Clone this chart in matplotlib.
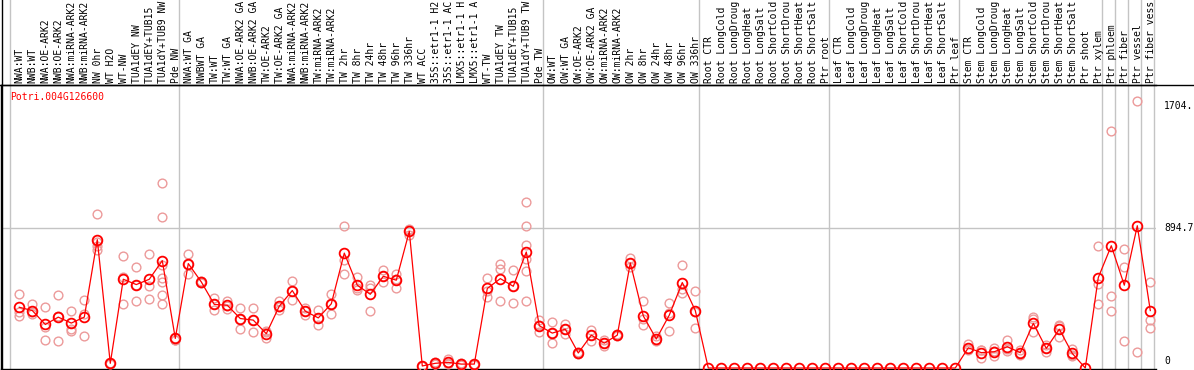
import matplotlib
matplotlib.use("Agg")
import matplotlib.pyplot as plt
import matplotlib.transforms as mtransforms
from matplotlib.lines import Line2D
import numpy as np

# Data
gene = "Potri.004G126600"
conditions = [
    "NWA:WT", "NWB:WT", "NWA:OE-ARK2", "NWB:OE-ARK2", "NWA:miRNA-ARK2", "NWB:miRNA-ARK2",
    "NW 0hr", "WT H2O", "WT-NW", "TUA1dEY NW", "TUA1dEY+TUB15 NW", "TUA1dY+TUB9 NW", "Pde NW",
    "NWA:WT GA", "NWBWT GA", "TW:WT", "TW:WT GA", "NWA:OE-ARK2 GA", "NWB:OE-ARK2 GA",
    "TW:OE-ARK2", "TW:OE-ARK2 GA", "NWA:miRNA-ARK2", "NWB:miRNA-ARK2", "TW:miRNA-ARK2",
    "TW:miRNA-ARK2", "TW 2hr", "TW 8hr", "TW 24hr", "TW 48hr", "TW 96hr", "TW 336hr",
    "WT ACC", "35S::etr1-1 H2O", "35S::etr1-1 ACC", "LMX5::etr1-1 H2O", "LMX5::etr1-1 ACC",
    "WT-TW", "TUA1dEY TW", "TUA1dEY+TUB15 TW", "TUA1dY+TUB9 TW", "Pde TW",
    "OW:WT", "OW:WT GA", "OW:OE-ARK2", "OW:OE-ARK2 GA", "OW:miRNA-ARK2", "OW:miRNA-ARK2",
    "OW 2hr", "OW 8hr", "OW 24hr", "OW 48hr", "OW 96hr", "OW 336hr",
    "Root CTR", "Root LongCold", "Root LongDrought", "Root LongHeat", "Root LongSalt",
    "Root ShortCold", "Root ShortDrought", "Root ShortHeat", "Root ShortSalt", "Ptr root",
    "Leaf CTR", "Leaf LongCold", "Leaf LongDrought", "Leaf LongHeat", "Leaf LongSalt",
    "Leaf ShortCold", "Leaf ShortDrought", "Leaf ShortHeat", "Leaf ShortSalt", "Ptr leaf",
    "Stem CTR", "Stem LongCold", "Stem LongDrought", "Stem LongHeat", "Stem LongSalt",
    "Stem ShortCold", "Stem ShortDrought", "Stem ShortHeat", "Stem ShortSalt", "Ptr shoot",
    "Ptr xylem", "Ptr phloem", "Ptr fiber", "Ptr vessel", "Ptr fiber vessel",
]
group_sizes = [13, 28, 12, 10, 10, 11, 1, 1, 1, 1]

means = [388, 367, 278, 325, 287, 325, 820, 30, 567, 533, 567, 686, 189,
         667, 550, 406, 401, 316, 306, 219, 395, 495, 363, 320, 410, 734, 529,
         471, 586, 561, 873, 13, 30, 36, 25, 25, 508, 571, 522, 741, 270,
         223, 248, 96, 210, 159, 210, 671, 333, 185, 338, 546, 367,
         0, 0, 0, 0, 0, 0, 0, 0, 0, 0,
         0, 0, 0, 0, 0, 0, 0, 0, 0, 0,
         129, 98, 104, 136, 98, 285, 125, 248, 93, 0, 578,
         781, 529, 909, 367]

replicates = [
    [470, 355, 335], [406, 342, 355], [388, 259, 176], [469, 170, 335],
    [361, 246, 234], [433, 348, 202], [981, 803, 752, 777], [33, 28, 30],
    [718, 582, 412], [648, 427, 533], [726, 524, 444],
    [1183, 966, 656, 578, 550, 469, 406], [192, 182, 180],
    [730, 603, 667], [556, 543, 550], [448, 369, 406], [427, 380, 397],
    [386, 248, 316], [382, 227, 306], [237, 227, 193], [427, 369, 390],
    [554, 433, 495], [384, 338, 363], [369, 272, 320], [471, 348, 410],
    [904, 688, 603], [582, 497, 510], [533, 512, 363], [624, 548, 586],
    [603, 514, 566], [887, 851, 880], [15, 12, 12], [38, 25, 28],
    [55, 30, 25], [20, 30, 25], [22, 28, 25], [578, 454, 492],
    [662, 635, 427], [629, 418, 522], [1062, 904, 783, 699, 618, 427],
    [306, 227, 277],
    [291, 159, 225], [278, 217, 248], [100, 92, 96], [242, 174, 214],
    [178, 142, 159], [215, 205, 210], [705, 645, 671], [427, 312, 274],
    [205, 171, 180], [418, 352, 234], [660, 476, 502], [490, 253, 358],
    [], [], [], [], [], [], [], [], [], [],
    [], [], [], [], [], [], [], [], [], [],
    [153, 115, 120], [115, 66, 112], [125, 78, 108], [178, 108, 122],
    [115, 83, 96], [316, 227, 327], [146, 104, 125], [274, 200, 270],
    [121, 78, 80], [], [779, 535, 406],
    [1514, 457, 367], [762, 648, 170], [1704, 100], [552, 304, 253],
]
y_labels = ["1704.", "894.7", "0"]
y_values = [1704, 894.7, 0]

mono = "DejaVu Sans Mono"
fs = 7.0
max_chars = 14  # the label strip only has room for this many characters

fig = plt.figure(figsize=(11.94, 3.70), dpi=100, facecolor="white")
ax = fig.add_axes([1 / 1194, 1 / 370, 1155 / 1194, 284 / 370])
ax.set_facecolor("white")

x = np.arange(len(conditions)) + 0.715

# replicate points
for xi, reps in zip(x, replicates):
    if reps:
        ax.plot([xi] * len(reps), reps, linestyle="none", marker="o", ms=6.3,
                mfc="none", mec="#ec9a9a", mew=1.0, zorder=3)

# mean line
ax.plot(x, means, color="red", lw=0.9, marker="o", ms=7, mfc="none",
        mec="red", mew=1.3, zorder=4)

ax.set_xlim(-0.692, 88.154)
ax.set_ylim(-6.4, 1808)

# grid lines
bounds = np.concatenate([[0], np.cumsum(group_sizes)])
for b in bounds:
    ax.axvline(b, ymin=0, ymax=369 / 284, color="#c4c4c4", lw=1.0,
               clip_on=False, zorder=1)
ax.axhline(894.7, color="#c4c4c4", lw=1.0, zorder=1)

ax.spines["right"].set_visible(False)
for s in ["left", "bottom", "top"]:
    ax.spines[s].set_color("black")
    ax.spines[s].set_linewidth(1.0)
ax.set_xticks([])
ax.set_yticks([])

# condition labels
lab_trans = mtransforms.blended_transform_factory(ax.transData, ax.transAxes)
for xi, lab in zip(x, conditions):
    ax.text(xi + 0.02, 1.008, lab[:max_chars], transform=lab_trans,
            rotation=90, ha="center", va="bottom", family=mono, fontsize=fs,
            color="black", clip_on=False)

# value labels on the right
trans = mtransforms.blended_transform_factory(ax.transAxes, ax.transData)
xr = 1 + 8 / 1155
ax.text(xr, y_values[0], y_labels[0], transform=trans, ha="left", va="top",
        family=mono, fontsize=fs)
ax.text(xr, y_values[1], y_labels[1], transform=trans, ha="left",
        va="center", family=mono, fontsize=fs)
ax.text(xr, y_values[2] + 12, y_labels[2], transform=trans, ha="left",
        va="bottom", family=mono, fontsize=fs)

# gene name
ax.text(9 / 1155, 1 - 12 / 284, gene, transform=ax.transAxes, ha="left",
        va="center", family=mono, fontsize=fs, color="red")

# frame lines outside the axes
fig.add_artist(Line2D([0, 1], [285 / 370, 285 / 370], transform=fig.transFigure,
                      color="black", lw=1.0))
fig.add_artist(Line2D([1.5 / 1194, 1.5 / 1194], [0, 1], transform=fig.transFigure,
                      color="black", lw=1.0))

fig.savefig("out.png", dpi=100, facecolor="white")
